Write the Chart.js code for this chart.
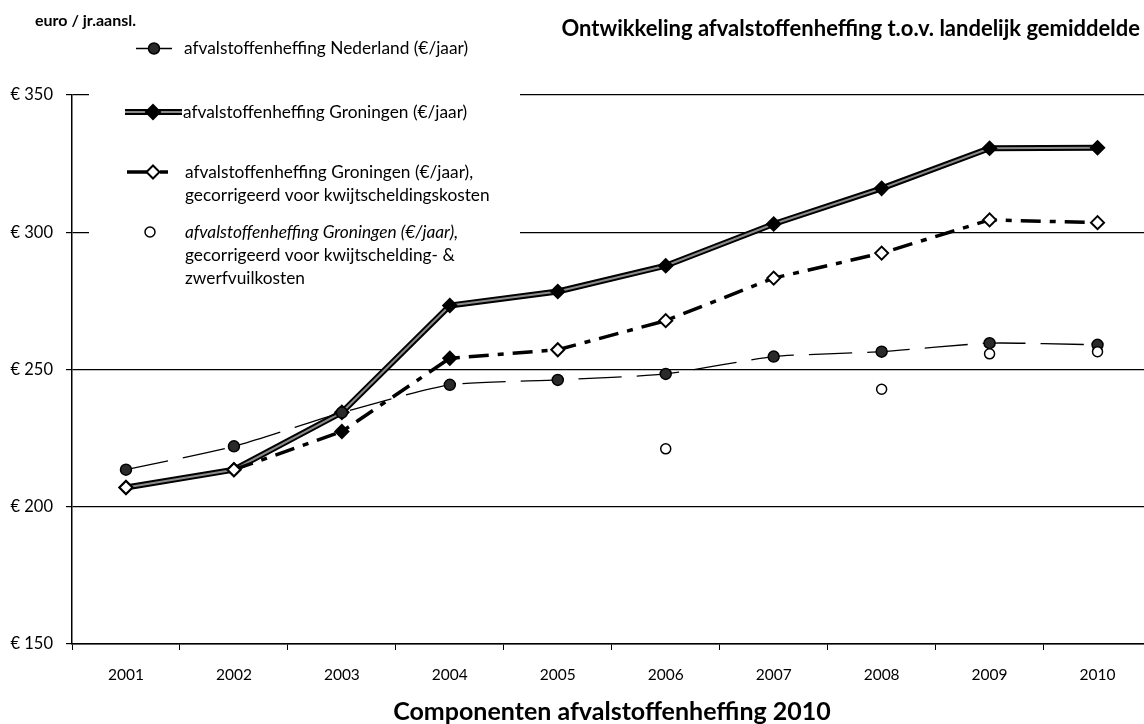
<!DOCTYPE html>
<html>
<head>
<meta charset="utf-8">
<script src="https://cdn.jsdelivr.net/npm/chart.js@4.4.1/dist/chart.umd.min.js"></script>
<style>
    body { margin: 0; background: #fff; }
    #wrap { width: 1144px; height: 724px; overflow: hidden; position: relative; }
</style>
</head>
<body>
<div id="wrap"><canvas id="chart" width="1160" height="724"></canvas></div>
<script>
// ========== data ==========
const years = ['2001', '2002', '2003', '2004', '2005', '2006', '2007', '2008', '2009', '2010']
const nederland = [213.5, 222, 234.3, 244.4, 246.2, 248.4, 254.7, 256.5, 259.6, 259.0]
const groningen = [207, 213.5, 234.4, 273.3, 278.4, 287.8, 303.0, 316.0, 330.6, 330.8]
const gronKwijt = [207, 213.5, 227.4, 254.1, 257.2, 267.8, 283.3, 292.4, 304.5, 303.5]
const gronKwijtZwerf = [null, null, null, null, null, 221.1, null, 242.8, 255.7, 256.5]
const yTicks = [150, 200, 250, 300, 350]

const unitLabel = 'euro / jr.aansl.'
const chartTitle = 'Ontwikkeling afvalstoffenheffing t.o.v. landelijk gemiddelde'
const footTitle = 'Componenten afvalstoffenheffing 2010'
const legendNed = 'afvalstoffenheffing Nederland (€/jaar)'
const legendGron = 'afvalstoffenheffing Groningen (€/jaar)'
const legendKwijt = ['afvalstoffenheffing Groningen (€/jaar),', 'gecorrigeerd voor kwijtscheldingskosten']
const legendZwerf = ['afvalstoffenheffing Groningen (€/jaar),', 'gecorrigeerd voor kwijtschelding- &', 'zwerfvuilkosten']

const FONT = "Lato, 'Open Sans', sans-serif"
Chart.defaults.font.family = FONT
Chart.defaults.color = '#000'

// open diamonds, except the two filled ones in 2003 and 2004
const kwijtFill = gronKwijt.map((v, i) => (i === 2 || i === 3) ? '#000' : '#fff')

// ========== small drawing helpers ==========
function diamond(ctx, x, y, r, fill) {
    ctx.beginPath()
    ctx.moveTo(x, y - r)
    ctx.lineTo(x + r, y)
    ctx.lineTo(x, y + r)
    ctx.lineTo(x - r, y)
    ctx.closePath()
    ctx.fillStyle = fill
    ctx.fill()
    ctx.lineWidth = 2
    ctx.strokeStyle = '#000'
    ctx.stroke()
}
function circle(ctx, x, y, r, fill) {
    ctx.beginPath()
    ctx.arc(x, y, r, 0, Math.PI * 2)
    ctx.fillStyle = fill
    ctx.fill()
    ctx.lineWidth = 1.5
    ctx.strokeStyle = '#000'
    ctx.stroke()
}
function line(ctx, x1, x2, y, w, color) {
    ctx.beginPath()
    ctx.moveTo(x1, y)
    ctx.lineTo(x2, y)
    ctx.lineWidth = w
    ctx.strokeStyle = color
    ctx.stroke()
}

// ========== legend (white box over the grid, under the lines) ==========
const legendBox = {
    id: 'legendBox',
    beforeDatasetsDraw(chart) {
        const ctx = chart.ctx
        ctx.save()
        ctx.fillStyle = '#fff'
        ctx.fillRect(89, 34, 431, 296)

        line(ctx, 136, 172, 48.5, 1.3, '#000')
        circle(ctx, 154, 48.5, 5.5, '#2a2a2a')

        line(ctx, 125, 182, 112, 6, '#000')
        line(ctx, 125, 182, 112, 2, '#8a8a8a')
        diamond(ctx, 153, 112, 7, '#000')

        line(ctx, 127, 147, 172, 3.5, '#000')
        line(ctx, 160, 168, 172, 3.5, '#000')
        diamond(ctx, 153, 172, 6.5, '#fff')

        circle(ctx, 150, 232, 5, '#fff')

        ctx.fillStyle = '#000'
        ctx.textAlign = 'left'
        ctx.textBaseline = 'middle'
        ctx.font = '17.3px ' + FONT
        ctx.fillText(legendNed, 184, 48.5)
        ctx.fillText(legendGron, 183, 112)
        ctx.fillText(legendKwijt[0], 185, 172)
        ctx.fillText(legendKwijt[1], 185, 195)
        ctx.font = 'italic 17.3px ' + FONT
        ctx.fillText(legendZwerf[0], 185, 232)
        ctx.font = '17.3px ' + FONT
        ctx.fillText(legendZwerf[1], 185, 255)
        ctx.fillText(legendZwerf[2], 185, 278)
        ctx.restore()
    }
}

// ========== titles ==========
const titles = {
    id: 'titles',
    afterDraw(chart) {
        const ctx = chart.ctx
        ctx.save()
        ctx.fillStyle = '#000'
        ctx.textBaseline = 'middle'
        ctx.font = 'bold 16px ' + FONT
        ctx.textAlign = 'left'
        ctx.fillText(unitLabel, 35, 21)
        ctx.font = 'bold 22px ' + FONT
        ctx.textAlign = 'right'
        ctx.fillText(chartTitle, 1140, 29)
        ctx.font = 'bold 25px ' + FONT
        ctx.textAlign = 'center'
        ctx.fillText(footTitle, 612, 712)
        ctx.restore()
    }
}

// ========== chart ==========
const ctx = document.getElementById('chart').getContext('2d')
new Chart(ctx, {
    type: 'line',
    data: {
        labels: years,
        datasets: [
            {
                label: legendGron,
                data: groningen,
                borderColor: '#000',
                borderWidth: 6,
                pointRadius: 0,
                order: 5
            },
            {
                label: legendGron,
                data: groningen,
                borderColor: '#8a8a8a',
                borderWidth: 2,
                pointStyle: 'rectRot',
                pointRadius: 7,
                pointBackgroundColor: '#000',
                pointBorderColor: '#000',
                pointBorderWidth: 1.5,
                order: 4
            },
            {
                label: legendKwijt.join(' '),
                data: gronKwijt,
                borderColor: '#000',
                borderWidth: 3.5,
                borderDash: [20, 9, 6, 9],
                pointStyle: 'rectRot',
                pointRadius: 6.5,
                pointBackgroundColor: kwijtFill,
                pointBorderColor: '#000',
                pointBorderWidth: 2,
                segment: {
                    borderColor: c => c.p0DataIndex === 0 ? 'rgba(0,0,0,0)' : undefined
                },
                order: 3
            },
            {
                label: legendNed,
                data: nederland,
                borderColor: '#000',
                borderWidth: 1.3,
                borderDash: [43, 15],
                tension: 0.2,
                pointStyle: 'circle',
                pointRadius: 5.5,
                pointBackgroundColor: '#2a2a2a',
                pointBorderColor: '#000',
                pointBorderWidth: 1.5,
                order: 2
            },
            {
                label: legendZwerf.join(' '),
                data: gronKwijtZwerf,
                showLine: false,
                pointStyle: 'circle',
                pointRadius: 5,
                pointBackgroundColor: '#fff',
                pointBorderColor: '#000',
                pointBorderWidth: 1.5,
                order: 1
            }
        ]
    },
    options: {
        responsive: false,
        animation: false,
        devicePixelRatio: 1,
        layout: { padding: { top: 95, right: 5, bottom: 0, left: 0 } },
        plugins: {
            legend: { display: false },
            tooltip: { enabled: false },
            title: { display: false }
        },
        scales: {
            x: {
                type: 'category',
                offset: true,
                grid: { drawOnChartArea: false, drawTicks: true, tickLength: 6, color: '#000', offset: true },
                border: { color: '#000', width: 1.5 },
                ticks: { font: { size: 15.5 }, padding: 16, maxRotation: 0, autoSkip: false },
                afterFit: scale => { scale.height = 80 }
            },
            y: {
                min: yTicks[0],
                max: yTicks[yTicks.length - 1],
                afterBuildTicks: scale => { scale.ticks = yTicks.map(v => ({ value: v })) },
                grid: { color: '#000', lineWidth: 1.2, tickLength: 6, drawTicks: true },
                border: { color: '#000', width: 1.5 },
                ticks: { font: { size: 16.5 }, padding: 13, callback: v => '€ ' + v },
                afterFit: scale => { scale.width = 72 }
            }
        }
    },
    plugins: [legendBox, titles]
})
</script>
</body>
</html>
